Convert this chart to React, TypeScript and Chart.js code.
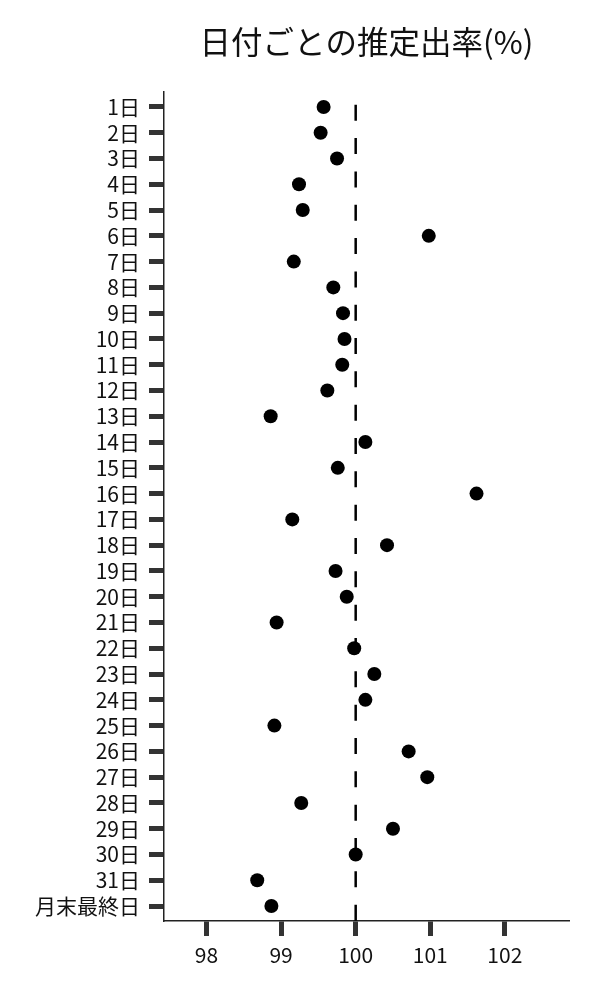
import { useEffect, useRef } from 'react';
import Chart from 'chart.js/auto';

const dayLabels = [
  '1日', '2日', '3日', '4日', '5日', '6日', '7日', '8日', '9日', '10日',
  '11日', '12日', '13日', '14日', '15日', '16日', '17日', '18日', '19日', '20日',
  '21日', '22日', '23日', '24日', '25日', '26日', '27日', '28日', '29日', '30日',
  '31日', '月末最終日'
];

const rates = [
  99.57, 99.53, 99.75, 99.24, 99.29, 100.98, 99.17, 99.70, 99.83, 99.85,
  99.82, 99.62, 98.86, 100.13, 99.76, 101.62, 99.15, 100.42, 99.73, 99.88,
  98.94, 99.98, 100.25, 100.13, 98.91, 100.71, 100.96, 99.27, 100.50, 100.00,
  98.68, 98.87
];

const xTicks = [98, 99, 100, 101, 102];
const refValue = 100;

const FONT = "'Noto Sans CJK JP', 'Noto Sans', sans-serif";

// dashed reference line, drawn under the dots
const refLine = {
  id: 'refLine',
  beforeDatasetsDraw(chart: any) {
    const { ctx, chartArea, scales } = chart;
    const x = scales.x.getPixelForValue(refValue);
    ctx.save();
    ctx.beginPath();
    ctx.strokeStyle = '#000';
    ctx.lineWidth = 2.5;
    ctx.setLineDash([16, 17.33]);
    ctx.lineDashOffset = 20.6;
    ctx.moveTo(x, chartArea.top);
    ctx.lineTo(x, chartArea.bottom);
    ctx.stroke();
    ctx.restore();
  }
};

export default function App() {
  const chartRef = useRef<HTMLCanvasElement>(null);
  const chartInstance = useRef<Chart | null>(null);

  useEffect(() => {
    if (!chartRef.current) return;

    if (chartInstance.current) {
      chartInstance.current.destroy();
    }

    const ctx = chartRef.current.getContext('2d');
    if (!ctx) return;

    chartInstance.current = new Chart(ctx, {
      type: 'scatter',
      data: {
        datasets: [{
          data: rates.map((v, i) => ({ x: v, y: i })),
          backgroundColor: '#000',
          borderColor: '#000',
          pointRadius: 7,
          pointHoverRadius: 7,
          borderWidth: 0
        }]
      },
      options: {
        animation: false,
        responsive: true,
        maintainAspectRatio: false,
        layout: {
          padding: { top: 0, right: 31, bottom: 0, left: 0 }
        },
        plugins: {
          legend: { display: false },
          tooltip: { enabled: false },
          title: {
            display: true,
            text: '日付ごとの推定出率(%)',
            fullSize: false,
            color: '#111',
            font: { family: FONT, size: 31.5, weight: 'normal' },
            padding: { top: 23, bottom: 31.2 }
          }
        },
        scales: {
          x: {
            type: 'linear',
            position: 'bottom',
            min: 97.43,
            max: 102.86,
            afterBuildTicks: (scale: any) => {
              scale.ticks = xTicks.map(v => ({ value: v }));
            },
            afterFit: (scale: any) => {
              scale.height = 79;
            },
            ticks: {
              color: '#111',
              padding: 6,
              font: { family: FONT, size: 21 },
              callback: (v: any) => String(v)
            },
            grid: {
              drawOnChartArea: false,
              drawTicks: true,
              tickLength: 15,
              tickWidth: 5,
              tickColor: '#333'
            },
            border: { display: true, color: '#222', width: 1.5 }
          },
          y: {
            type: 'linear',
            reverse: true,
            min: -0.58,
            max: 31.58,
            afterBuildTicks: (scale: any) => {
              scale.ticks = dayLabels.map((_, i) => ({ value: i }));
            },
            afterFit: (scale: any) => {
              scale.width = 164;
            },
            ticks: {
              color: '#111',
              padding: 9,
              autoSkip: false,
              font: { family: FONT, size: 21 },
              callback: (v: any) => dayLabels[v] ?? ''
            },
            grid: {
              drawOnChartArea: false,
              drawTicks: true,
              tickLength: 15,
              tickWidth: 5,
              tickColor: '#333'
            },
            border: { display: true, color: '#222', width: 1.5 }
          }
        }
      },
      plugins: [refLine]
    });

    return () => {
      if (chartInstance.current) {
        chartInstance.current.destroy();
        chartInstance.current = null;
      }
    };
  }, []);

  return (
    <div style={{ position: 'absolute', left: 0, top: 0, width: 600, height: 1000, background: '#fff' }}>
      <canvas ref={chartRef} />
    </div>
  );
}
